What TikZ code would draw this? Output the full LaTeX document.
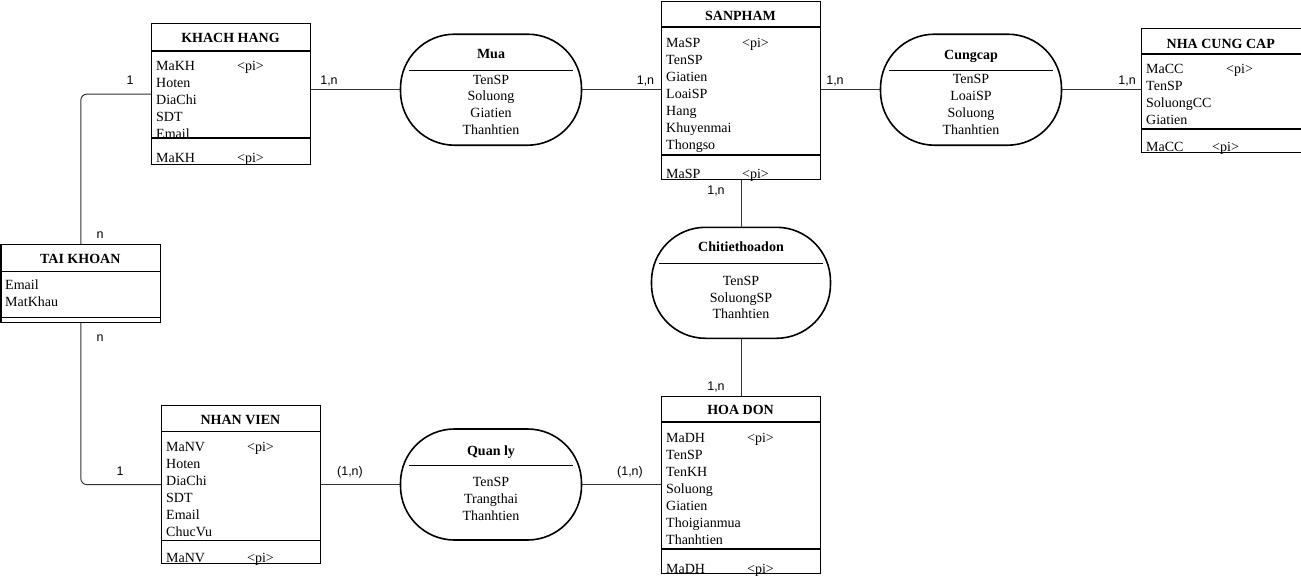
\documentclass[tikz,border=0pt]{standalone}
\usepackage{fontspec}
\setmainfont{Liberation Serif}
\newfontfamily\cardfont{Liberation Sans}
\usetikzlibrary{positioning,calc}

\begin{document}
\begin{tikzpicture}[x=1pt, y=-1pt,
  entity/.style={draw, line width=1.2pt, rectangle, anchor=north west, inner sep=0pt},
  relation/.style={draw, line width=1.6pt, rectangle, rounded corners=54pt,
    minimum width=181pt, minimum height=111pt, inner sep=0pt},
  head/.style={anchor=base, inner sep=0pt, font=\bfseries\fontsize{14}{17}\selectfont},
  attr/.style={anchor=base west, inner sep=0pt, font=\fontsize{14}{17}\selectfont},
  rattr/.style={anchor=base, inner sep=0pt, font=\fontsize{14}{17}\selectfont},
  card/.style={anchor=base, inner sep=0pt, font=\cardfont\fontsize{12.5}{14}\selectfont},
  sepline/.style={line width=1.2pt},
  link/.style={draw=black!80, line width=1pt, rounded corners=6pt}]
\useasboundingbox (0,0) rectangle (1301,576);

% entities
\node[entity, minimum width=159pt, minimum height=141pt] (kh) at (151,23) {};
\node[head] (kh-t) at (230.5,42.5) {KHACH HANG};
\draw[sepline] (151,51) -- (310,51);
\foreach \a [count=\i from 0] in {MaKH,Hoten,DiaChi,SDT,Email}
  \node[attr] (kh-\i) at (156,70.5+17*\i) {\a};
\node[attr] (kh-pi) at (237,70.5) {<pi>};
\draw[sepline] (151,138) -- (310,138);
\node[attr] (kh-k) at (156,162) {MaKH};
\node[attr] (kh-kpi) at (237,162) {<pi>};

\node[entity, minimum width=159pt, minimum height=178pt] (sp) at (661,1) {};
\node[head] (sp-t) at (740.5,20) {SANPHAM};
\draw[sepline] (661,27) -- (820,27);
\foreach \a [count=\i from 0] in {MaSP,TenSP,Giatien,LoaiSP,Hang,Khuyenmai,Thongso}
  \node[attr] (sp-\i) at (666,47+17*\i) {\a};
\node[attr] (sp-pi) at (742,47) {<pi>};
\draw[sepline] (661,155) -- (820,155);
\node[attr] (sp-k) at (666,178) {MaSP};
\node[attr] (sp-kpi) at (742,178) {<pi>};

\node[entity, minimum width=159.5pt, minimum height=124pt] (ncc) at (1141,28) {};
\node[head] (ncc-t) at (1220.75,48.5) {NHA CUNG CAP};
\draw[sepline] (1141,54) -- (1300.5,54);
\foreach \a [count=\i from 0] in {MaCC,TenSP,SoluongCC,Giatien}
  \node[attr] (ncc-\i) at (1146,73.5+17*\i) {\a};
\node[attr] (ncc-pi) at (1226,73.5) {<pi>};
\draw[sepline] (1141,129) -- (1300.5,129);
\node[attr] (ncc-k) at (1146,151.5) {MaCC};
\node[attr] (ncc-kpi) at (1212,151.5) {<pi>};

\node[entity, minimum width=159.5pt, minimum height=78pt] (tk) at (0.5,244) {};
\node[head] (tk-t) at (80.25,263.5) {TAI KHOAN};
\draw[sepline] (0.5,271.5) -- (160,271.5);
\node[attr] (tk-0) at (5,289.5) {Email};
\node[attr] (tk-1) at (5,306) {MatKhau};
\draw[sepline] (0.5,317.5) -- (160,317.5);

\node[entity, minimum width=159pt, minimum height=158pt] (nv) at (161,405) {};
\node[head] (nv-t) at (240.5,424.5) {NHAN VIEN};
\draw[sepline] (161,431.5) -- (320,431.5);
\foreach \a [count=\i from 0] in {MaNV,Hoten,DiaChi,SDT,Email,ChucVu}
  \node[attr] (nv-\i) at (166,451+17*\i) {\a};
\node[attr] (nv-pi) at (247,451) {<pi>};
\draw[sepline] (161,540.5) -- (320,540.5);
\node[attr] (nv-k) at (166,562) {MaNV};
\node[attr] (nv-kpi) at (247,562) {<pi>};

\node[entity, minimum width=159pt, minimum height=177pt] (hd) at (661,396) {};
\node[head] (hd-t) at (740.5,414.5) {HOA DON};
\draw[sepline] (661,422) -- (820,422);
\foreach \a [count=\i from 0] in {MaDH,TenSP,TenKH,Soluong,Giatien,Thoigianmua,Thanhtien}
  \node[attr] (hd-\i) at (666,442+17*\i) {\a};
\node[attr] (hd-pi) at (747,442) {<pi>};
\draw[sepline] (661,549) -- (820,549);
\node[attr] (hd-k) at (666,573) {MaDH};
\node[attr] (hd-kpi) at (747,573) {<pi>};

% relations
\node[relation] (mua) at (491,89.7) {};
\node[head] (mua-t) at (491,58.5) {Mua};
\draw[sepline] (409,70.3) -- (573,70.3);
\foreach \a [count=\i from 0] in {TenSP,Soluong,Giatien,Thanhtien}
  \node[rattr] (mua-\i) at (491,84+16.8*\i) {\a};

\node[relation] (cc) at (971,89.7) {};
\node[head] (cc-t) at (971,59.5) {Cungcap};
\draw[sepline] (889,70.3) -- (1053,70.3);
\foreach \a [count=\i from 0] in {TenSP,LoaiSP,Soluong,Thanhtien}
  \node[rattr] (cc-\i) at (971,83.5+16.9*\i) {\a};

\node[relation, minimum width=179pt] (ct) at (741,282.8) {};
\node[head] (ct-t) at (741,251.2) {Chitiethoadon};
\draw[sepline] (659,263.3) -- (823,263.3);
\foreach \a [count=\i from 0] in {TenSP,SoluongSP,Thanhtien}
  \node[rattr] (ct-\i) at (741,285.5+16.7*\i) {\a};

\node[relation] (ql) at (491,484.5) {};
\node[head] (ql-t) at (491,455) {Quan ly};
\draw[sepline] (409,465.3) -- (573,465.3);
\foreach \a [count=\i from 0] in {TenSP,Trangthai,Thanhtien}
  \node[rattr] (ql-\i) at (491,486.5+17*\i) {\a};

% connectors
\draw[link] (tk.north) |- (kh.west);
\draw[link] (tk.south) |- (nv.west);
\draw[link] (kh.east |- mua.west) -- (mua.west);
\draw[link] (mua.east) -- (sp.west |- mua.east);
\draw[link] (sp.east |- cc.west) -- (cc.west);
\draw[link] (cc.east) -- (ncc.west |- cc.east);
\draw[link] (sp.south) -- (sp.south |- ct.north);
\draw[link] (hd.north |- ct.south) -- (hd.north);
\draw[link] (nv.east |- ql.west) -- (ql.west);
\draw[link] (ql.east) -- (hd.west |- ql.east);

% cardinalities
\node[card] (c-kh-tk) at (130,84) {1};
\node[card] (c-tk-kh) at (100,238.5) {n};
\node[card] (c-tk-nv) at (100,341) {n};
\node[card] (c-nv-tk) at (120,475) {1};
\node[card] (c-kh-mua) at (329,84) {1,n};
\node[card] (c-sp-mua) at (645.5,84) {1,n};
\node[card] (c-sp-cc) at (835,84) {1,n};
\node[card] (c-ncc-cc) at (1127,84) {1,n};
\node[card] (c-sp-ct) at (716,194) {1,n};
\node[card] (c-hd-ct) at (716,390) {1,n};
\node[card] (c-nv-ql) at (350,475) {(1,n)};
\node[card] (c-hd-ql) at (630,475) {(1,n)};
\end{tikzpicture}
\end{document}
